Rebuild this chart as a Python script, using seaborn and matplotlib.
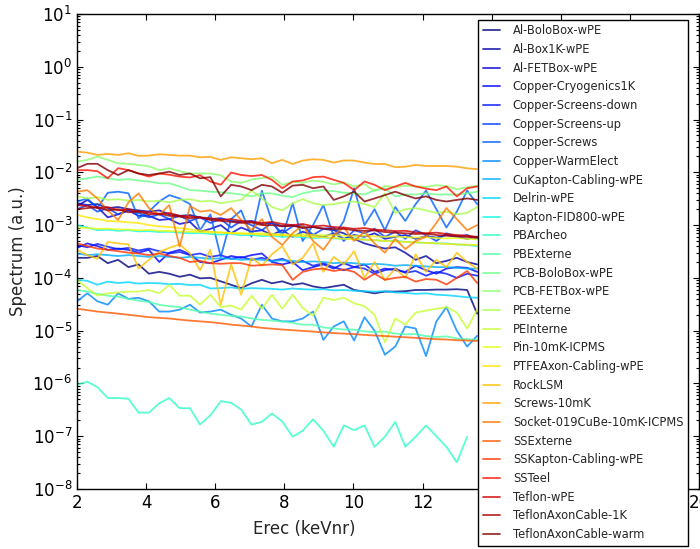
import numpy as np
import pandas as pd
import matplotlib
matplotlib.use("Agg")
import matplotlib.pyplot as plt
from matplotlib.ticker import LogLocator, NullLocator
import seaborn as sns

# recoil energy grid (keVnr)
energy = [2.00, 2.30, 2.59, 2.89, 3.19, 3.49, 3.78, 4.08, 4.38, 4.67,
          4.97, 5.27, 5.56, 5.86, 6.16, 6.46, 6.75, 7.05, 7.35, 7.64,
          7.94, 8.24, 8.53, 8.83, 9.13, 9.43, 9.72, 10.02, 10.32, 10.61,
          10.91, 11.21, 11.50, 11.80, 12.10, 12.40, 12.69, 12.99, 13.29, 13.58]

al_bolobox = [2.4e-4, 2.4e-4, 2.6e-4, 1.9e-4, 2.2e-4, 1.6e-4, 1.8e-4, 1.2e-4, 1.3e-4, 1.2e-4,
              1.05e-4, 1.15e-4, 9.8e-5, 1.0e-4, 8.6e-5, 7.4e-5, 6.4e-5, 7.9e-5, 9.2e-5, 7.9e-5,
              8.6e-5, 7.4e-5, 7.9e-5, 6.9e-5, 6.4e-5, 6.9e-5, 7.4e-5, 5.9e-5, 5.5e-5, 5.1e-5,
              5.5e-5, 5.5e-5, 5.6e-5, 5.9e-5, 5.9e-5, 6.0e-5, 6.0e-5, 6.1e-5, 5.9e-5, 2.1e-5]
al_box1k = [2.6e-3, 2.4e-3, 2.5e-3, 2.1e-3, 2.2e-3, 2.0e-3, 1.9e-3, 1.8e-3, 1.9e-3, 1.6e-3,
            1.5e-3, 1.55e-3, 1.4e-3, 1.3e-3, 1.35e-3, 1.2e-3, 1.15e-3, 1.2e-3, 1.05e-3, 1.1e-3,
            9.5e-4, 1.0e-3, 8.8e-4, 9.2e-4, 8.5e-4, 8.0e-4, 7.0e-4, 5.5e-4, 4.5e-4, 4.0e-4,
            3.6e-4, 3.8e-4, 3.0e-4, 2.2e-4, 2.6e-4, 1.9e-4, 2.1e-4, 2.4e-4, 2.0e-4, 1.8e-4]
al_fetbox = [2.3e-3, 3.0e-3, 2.2e-3, 1.4e-3, 1.6e-3, 1.9e-3, 1.5e-3, 1.5e-3, 1.25e-3, 1.3e-3,
             1.05e-3, 1.15e-3, 7.5e-4, 8.5e-4, 1.0e-3, 7.0e-4, 9.0e-4, 7.5e-4, 8.0e-4, 6.5e-4,
             8.0e-4, 6.0e-4, 7.5e-4, 6.5e-4, 6.0e-4, 7.0e-4, 5.5e-4, 6.5e-4, 6.0e-4, 7.0e-4,
             5.5e-4, 6.0e-4, 6.5e-4, 5.5e-4, 6.2e-4, 5.8e-4, 6.5e-4, 6.0e-4, 5.5e-4, 6.0e-4]
cu_cryo = [3.7e-4, 4.5e-4, 4.0e-4, 3.4e-4, 3.6e-4, 3.4e-4, 3.0e-4, 3.4e-4, 2.0e-4, 3.0e-4,
           3.4e-4, 2.8e-4, 2.0e-4, 1.9e-4, 2.2e-4, 2.6e-4, 2.4e-4, 2.7e-4, 2.9e-4, 2.0e-4,
           1.8e-4, 2.0e-4, 1.4e-4, 1.6e-4, 1.8e-4, 1.5e-4, 1.9e-4, 1.6e-4, 1.8e-4, 1.3e-4,
           1.5e-4, 1.4e-4, 1.3e-4, 1.7e-4, 1.4e-4, 1.2e-4, 1.5e-4, 1.6e-4, 1.55e-4, 1.3e-4]
cu_screens_down = [4.2e-4, 3.8e-4, 4.4e-4, 3.9e-4, 3.5e-4, 3.7e-4, 3.3e-4, 3.6e-4, 3.2e-4, 2.9e-4,
                   3.1e-4, 2.7e-4, 2.9e-4, 2.5e-4, 2.7e-4, 2.3e-4, 2.5e-4, 2.2e-4, 2.4e-4, 2.1e-4,
                   2.3e-4, 1.9e-4, 2.1e-4, 1.7e-4, 1.9e-4, 1.6e-4, 1.4e-4, 1.6e-4, 1.5e-4, 1.2e-4,
                   1.4e-4, 1.5e-4, 1.25e-4, 1.35e-4, 1.1e-4, 1.3e-4, 1.2e-4, 1.0e-4, 1.2e-4, 1.1e-4]
cu_screens_up = [2.0e-3, 2.4e-3, 1.8e-3, 2.1e-3, 1.6e-3, 1.9e-3, 1.7e-3, 1.4e-3, 1.6e-3, 1.3e-3,
                 1.5e-3, 1.2e-3, 1.4e-3, 1.1e-3, 1.3e-3, 9.0e-4, 1.2e-3, 1.0e-3, 8.0e-4, 1.1e-3,
                 7.0e-4, 9.5e-4, 1.0e-3, 6.5e-4, 8.5e-4, 9.0e-4, 5.0e-4, 8.0e-4, 7.0e-4, 8.5e-4,
                 6.0e-4, 7.5e-4, 5.5e-4, 8.0e-4, 6.5e-4, 5.0e-4, 7.0e-4, 6.0e-4, 6.5e-4, 5.5e-4]
cu_screws = [2.8e-3, 3.2e-3, 2.1e-3, 4.1e-3, 4.3e-3, 4.0e-3, 1.35e-3, 1.8e-3, 2.8e-3, 3.7e-3,
             3.2e-3, 2.5e-3, 8.0e-4, 1.6e-3, 2.5e-4, 1.3e-3, 1.9e-3, 6.0e-4, 4.5e-3, 1.2e-3,
             6.0e-4, 2.6e-3, 5.0e-4, 1.0e-3, 2.4e-3, 6.0e-4, 1.2e-3, 5.0e-3, 1.0e-3, 2.0e-3,
             8.0e-4, 2.2e-3, 1.2e-3, 2.5e-3, 4.5e-3, 2.0e-3, 9.0e-4, 1.8e-3, 4.5e-3, 2.5e-3]
cu_warmelect = [3.6e-5, 5.1e-5, 3.6e-5, 3.1e-5, 5.1e-5, 4.0e-5, 4.2e-5, 3.6e-5, 2.3e-5, 2.3e-5,
                2.5e-5, 3.1e-5, 2.2e-5, 2.3e-5, 2.5e-5, 2.0e-5, 1.7e-5, 1.2e-5, 3.1e-5, 1.7e-5,
                1.5e-5, 1.5e-5, 1.7e-5, 2.3e-5, 6.7e-6, 1.2e-5, 1.5e-5, 6.5e-6, 1.8e-5, 1.0e-5,
                3.5e-6, 5.0e-6, 1.2e-5, 1.1e-5, 3.3e-6, 1.5e-5, 2.8e-5, 1.0e-5, 5.0e-6, 8.0e-6]
cukapton = [2.9e-4, 2.7e-4, 2.8e-4, 2.7e-4, 2.6e-4, 2.7e-4, 2.6e-4, 2.5e-4, 2.6e-4, 2.5e-4,
            2.4e-4, 2.5e-4, 2.4e-4, 2.3e-4, 2.35e-4, 2.3e-4, 2.2e-4, 2.25e-4, 2.2e-4, 2.1e-4,
            2.15e-4, 2.1e-4, 2.0e-4, 2.05e-4, 2.0e-4, 1.9e-4, 1.95e-4, 1.9e-4, 1.8e-4, 1.85e-4,
            1.8e-4, 1.7e-4, 1.75e-4, 1.7e-4, 1.65e-4, 1.6e-4, 1.6e-4, 1.55e-4, 1.5e-4, 1.5e-4]
delrin = [9.2e-5, 8.8e-5, 7.4e-5, 8.5e-5, 8.0e-5, 8.3e-5, 7.8e-5, 8.0e-5, 7.9e-5, 7.6e-5,
          7.7e-5, 7.3e-5, 7.4e-5, 6.3e-5, 6.4e-5, 6.6e-5, 6.2e-5, 6.4e-5, 6.3e-5, 6.2e-5,
          6.0e-5, 6.3e-5, 6.1e-5, 6.0e-5, 6.1e-5, 5.8e-5, 5.9e-5, 5.7e-5, 5.6e-5, 5.5e-5,
          5.6e-5, 5.3e-5, 5.2e-5, 5.0e-5, 5.1e-5, 4.8e-5, 4.7e-5, 4.5e-5, 4.3e-5, 4.2e-5]
kapton_fid800 = [1.0e-3, 9.0e-4, 8.0e-4, 8.2e-4, 7.8e-4, 8.0e-4, 7.6e-4, 7.7e-4, 7.4e-4, 7.5e-4,
                 7.2e-4, 7.0e-4, 7.1e-4, 6.8e-4, 6.6e-4, 6.9e-4, 6.4e-4, 6.5e-4, 6.2e-4, 6.3e-4,
                 6.0e-4, 6.1e-4, 5.9e-4, 5.7e-4, 5.8e-4, 5.6e-4, 5.5e-4, 5.6e-4, 5.3e-4, 5.2e-4,
                 5.0e-4, 5.1e-4, 4.8e-4, 4.7e-4, 4.6e-4, 4.5e-4, 4.5e-4, 4.3e-4, 4.2e-4, 4.0e-4]
pbarcheo = [9.4e-7, 1.08e-6, 8.5e-7, 5.3e-7, 5.3e-7, 5.1e-7, 2.8e-7, 2.8e-7, 4.2e-7, 5.3e-7,
            3.4e-7, 3.4e-7, 1.66e-7, 2.5e-7, 4.6e-7, 4.3e-7, 3.2e-7, 1.66e-7, 1.87e-7, 2.7e-7,
            1.9e-7, 9.8e-8, 1.27e-7, 2.1e-7, 1.27e-7, 6.3e-8, 1.6e-7, 1.3e-7, 1.6e-7, 6.3e-8,
            9.8e-8, 1.87e-7, 6.3e-8, 9.8e-8, 1.6e-7, 1.0e-7, 6.3e-8, 3.2e-8, 9.8e-8, np.nan]
pbexterne = [5.9e-5, 5.5e-5, 5.0e-5, 4.6e-5, 4.4e-5, 4.0e-5, 3.7e-5, 3.5e-5, 3.1e-5, 2.9e-5,
             2.8e-5, 2.5e-5, 2.3e-5, 2.1e-5, 2.0e-5, 1.9e-5, 1.85e-5, 1.7e-5, 1.6e-5, 1.55e-5,
             1.5e-5, 1.4e-5, 1.3e-5, 1.3e-5, 1.15e-5, 1.1e-5, 1.05e-5, 1.05e-5, 9.7e-6, 9.4e-6,
             9.6e-6, 8.8e-6, 8.5e-6, 8.6e-6, 7.9e-6, 7.6e-6, 7.8e-6, 7.1e-6, 6.9e-6, 6.7e-6]
pcb_bolobox = [7.2e-3, 7.7e-3, 8.3e-3, 7.7e-3, 7.2e-3, 7.4e-3, 7.0e-3, 6.7e-3, 6.2e-3, 6.2e-3,
               5.4e-3, 4.6e-3, 4.5e-3, 4.3e-3, 4.2e-3, 4.0e-3, 3.8e-3, 3.5e-3, 4.0e-3, 4.0e-3,
               3.6e-3, 3.4e-3, 4.0e-3, 4.4e-3, 4.6e-3, 4.4e-3, 4.1e-3, 4.0e-3, 3.8e-3, 4.6e-3,
               5.0e-3, 3.5e-3, 3.8e-3, 3.8e-3, 4.0e-3, 3.8e-3, 3.8e-3, 3.8e-3, 4.0e-3, 4.3e-3]
pcb_fetbox = [1.6e-2, 1.72e-2, 2.0e-2, 1.72e-2, 1.48e-2, 1.45e-2, 1.38e-2, 1.3e-2, 1.1e-2, 1.2e-2,
              1.05e-2, 9.5e-3, 9.5e-3, 9.5e-3, 8.8e-3, 6.7e-3, 6.3e-3, 7.3e-3, 7.8e-3, 8.3e-3,
              5.8e-3, 6.6e-3, 6.3e-3, 7.0e-3, 6.6e-3, 5.9e-3, 6.4e-3, 5.4e-3, 6.0e-3, 4.4e-3,
              5.5e-3, 5.2e-3, 5.6e-3, 5.4e-3, 5.3e-3, 5.7e-3, 5.5e-3, 4.8e-3, 5.2e-3, 5.6e-3]
pe_externe = [3.5e-3, 3.2e-3, 3.4e-3, 3.0e-3, 3.1e-3, 2.9e-3, 3.0e-3, 2.8e-3, 2.9e-3, 2.7e-3,
              3.0e-3, 3.1e-3, 2.8e-3, 2.9e-3, 2.6e-3, 2.8e-3, 3.0e-3, 4.5e-3, 3.2e-3, 2.2e-3,
              1.9e-3, 2.6e-3, 3.1e-3, 2.6e-3, 2.4e-3, 2.5e-3, 2.7e-3, 2.8e-3, 2.5e-3, 2.2e-3,
              4.0e-3, 1.7e-3, 2.0e-3, 2.1e-3, 1.9e-3, 1.7e-3, 1.8e-3, 1.6e-3, 1.7e-3, 2.2e-3]
pe_interne = [9.2e-5, 6.4e-5, 4.6e-5, 5.1e-5, 5.3e-5, 5.5e-5, 5.5e-5, 5.9e-5, 5.1e-5, 7.4e-5,
              4.6e-5, 4.6e-5, 3.1e-5, 4.8e-5, 2.8e-5, 3.0e-5, 2.5e-5, 4.6e-5, 2.6e-5, 4.8e-5,
              2.6e-5, 4.8e-5, 2.7e-5, 1.9e-5, 4.2e-5, 3.8e-5, 4.2e-5, 3.3e-5, 2.9e-5, 2.0e-5,
              6.0e-6, 1.7e-5, 1.3e-5, 2.2e-5, 2.4e-5, 2.6e-5, 2.8e-5, 2.2e-5, 1.1e-5, 2.5e-5]
pin_10mk = [9.0e-4, 8.8e-4, 8.5e-4, 8.6e-4, 8.3e-4, 8.2e-4, 8.0e-4, 8.1e-4, 7.8e-4, 7.7e-4,
            7.6e-4, 7.5e-4, 7.4e-4, 7.2e-4, 7.3e-4, 7.1e-4, 7.0e-4, 6.9e-4, 7.0e-4, 6.8e-4,
            6.7e-4, 6.6e-4, 6.7e-4, 6.5e-4, 6.4e-4, 6.5e-4, 6.3e-4, 6.2e-4, 6.3e-4, 6.1e-4,
            6.0e-4, 6.1e-4, 5.9e-4, 5.8e-4, 5.9e-4, 5.7e-4, 5.6e-4, 5.7e-4, 5.5e-4, 5.4e-4]
ptfe_axon = [1.56e-3, 1.4e-3, 1.3e-3, 1.2e-3, 1.17e-3, 1.13e-3, 1.1e-3, 1.0e-3, 9.5e-4, 9.2e-4,
             8.8e-4, 8.3e-4, 7.9e-4, 7.5e-4, 7.2e-4, 7.0e-4, 6.9e-4, 6.8e-4, 6.6e-4, 6.5e-4,
             6.4e-4, 6.3e-4, 6.2e-4, 6.0e-4, 5.9e-4, 5.7e-4, 5.5e-4, 5.4e-4, 5.3e-4, 5.2e-4,
             5.0e-4, 4.9e-4, 4.8e-4, 4.7e-4, 4.6e-4, 4.5e-4, 4.4e-4, 4.3e-4, 4.25e-4, 4.2e-4]
rock_lsm = [3.4e-4, 2.7e-4, 2.3e-4, 4.8e-4, 4.5e-4, 4.3e-4, 1.5e-4, 2.2e-4, 3.1e-4, 3.7e-4,
            4.3e-4, 2.9e-4, 1.4e-4, 3.4e-4, 3.1e-5, 1.8e-4, 4.8e-5, 2.4e-4, 1.7e-4, 2.8e-4,
            4.0e-4, 1.8e-4, 2.4e-4, 4.5e-4, 1.3e-4, 2.5e-4, 1.8e-4, 3.2e-4, 1.0e-4, 2.0e-4,
            9.0e-5, 1.5e-4, 1.0e-4, 2.8e-4, 1.3e-4, 2.2e-4, 1.6e-4, 3.0e-4, 2.0e-4, 1.5e-4]
screws_10mk = [2.47e-2, 2.36e-2, 2.14e-2, 2.23e-2, 2.14e-2, 2.3e-2, 2.05e-2, 2.07e-2, 2.2e-2, 2.14e-2,
               2.07e-2, 2.07e-2, 1.93e-2, 1.96e-2, 1.72e-2, 1.93e-2, 1.85e-2, 1.77e-2, 1.85e-2, 1.49e-2,
               1.72e-2, 1.44e-2, 1.67e-2, 1.77e-2, 1.72e-2, 1.53e-2, 1.68e-2, 1.67e-2, 1.53e-2, 1.44e-2,
               1.44e-2, 1.25e-2, 1.28e-2, 1.38e-2, 1.32e-2, 1.32e-2, 1.32e-2, 1.28e-2, 1.19e-2, 1.15e-2]
socket = [4.3e-3, 4.6e-3, 3.2e-3, 1.9e-3, 1.25e-3, 2.7e-3, 4.0e-3, 2.1e-3, 1.56e-3, 2.4e-3,
          3.9e-4, 2.3e-3, 1.8e-3, 1.9e-3, 1.56e-3, 2.1e-3, 1.25e-3, 8.0e-4, 1.3e-3, 6.0e-4,
          4.2e-4, 7.0e-4, 1.0e-3, 5.0e-4, 3.4e-4, 6.5e-4, 9.0e-4, 5.0e-4, 7.5e-4, 4.5e-4,
          3.0e-4, 5.5e-4, 3.5e-4, 5.0e-4, 6.0e-4, 1.1e-3, 2.1e-3, 1.3e-3, 8.0e-4, 1.0e-3]
ss_externe = [2.6e-5, 2.45e-5, 2.3e-5, 2.2e-5, 2.1e-5, 2.0e-5, 1.9e-5, 1.8e-5, 1.75e-5, 1.7e-5,
              1.62e-5, 1.55e-5, 1.5e-5, 1.45e-5, 1.38e-5, 1.3e-5, 1.25e-5, 1.2e-5, 1.13e-5, 1.09e-5,
              1.05e-5, 1.02e-5, 9.9e-6, 9.6e-6, 9.3e-6, 9.0e-6, 8.8e-6, 8.6e-6, 8.3e-6, 8.1e-6,
              7.9e-6, 7.7e-6, 7.5e-6, 7.3e-6, 7.1e-6, 6.9e-6, 6.8e-6, 6.6e-6, 6.5e-6, 6.4e-6]
ss_kapton = [4.5e-4, 4.0e-4, 3.6e-4, 3.4e-4, 3.2e-4, 3.0e-4, 2.9e-4, 2.7e-4, 2.9e-4, 2.6e-4,
             2.4e-4, 2.0e-4, 2.1e-4, 1.9e-4, 1.85e-4, 1.9e-4, 1.9e-4, 1.7e-4, 1.75e-4, 1.8e-4,
             1.75e-4, 9.2e-5, 1.3e-4, 1.45e-4, 1.5e-4, 1.35e-4, 1.45e-4, 1.3e-4, 9.2e-5, 1.2e-4,
             9.2e-5, 1.0e-4, 1.05e-4, 8.5e-5, 9.5e-5, 9.2e-5, 7.5e-5, 1.0e-4, 1.35e-4, 8.0e-5]
ss_teel = [1.1e-2, 1.1e-2, 1.05e-2, 7.7e-3, 1.2e-2, 1.1e-2, 9.5e-3, 8.3e-3, 9.5e-3, 9.0e-3,
           8.3e-3, 8.0e-3, 8.8e-3, 6.7e-3, 5.8e-3, 9.9e-3, 8.9e-3, 8.5e-3, 8.9e-3, 7.2e-3,
           5.0e-3, 6.7e-3, 7.0e-3, 8.1e-3, 8.3e-3, 7.2e-3, 6.3e-3, 4.6e-3, 6.7e-3, 5.8e-3,
           4.6e-3, 5.4e-3, 6.3e-3, 5.4e-3, 4.9e-3, 4.6e-3, 5.4e-3, 3.5e-3, 5.0e-3, 5.4e-3]
teflon_wpe = [2.4e-3, 2.3e-3, 2.1e-3, 2.2e-3, 1.9e-3, 2.0e-3, 1.8e-3, 1.75e-3, 1.6e-3, 1.7e-3,
              1.5e-3, 1.45e-3, 1.4e-3, 1.35e-3, 1.25e-3, 1.3e-3, 1.2e-3, 1.15e-3, 1.1e-3, 1.15e-3,
              1.05e-3, 1.0e-3, 1.05e-3, 9.5e-4, 9.8e-4, 9.2e-4, 9.0e-4, 8.5e-4, 8.8e-4, 8.2e-4,
              8.0e-4, 7.7e-4, 7.8e-4, 7.3e-4, 7.0e-4, 7.2e-4, 6.8e-4, 6.5e-4, 6.3e-4, 6.0e-4]
teflon_axon_1k = [2.0e-3, 2.1e-3, 2.2e-3, 1.9e-3, 2.0e-3, 1.75e-3, 1.8e-3, 1.6e-3, 1.65e-3, 1.5e-3,
                  1.45e-3, 1.35e-3, 1.4e-3, 1.25e-3, 1.2e-3, 1.15e-3, 1.1e-3, 1.12e-3, 1.0e-3, 1.0e-3,
                  9.5e-4, 9.7e-4, 9.0e-4, 9.2e-4, 8.6e-4, 8.4e-4, 8.5e-4, 8.0e-4, 7.8e-4, 7.9e-4,
                  7.4e-4, 7.2e-4, 7.0e-4, 6.8e-4, 6.9e-4, 6.5e-4, 6.3e-4, 6.2e-4, 6.0e-4, 5.8e-4]
teflon_axon_warm = [1.2e-2, 1.45e-2, 1.45e-2, 1.1e-2, 8.9e-3, 1.1e-2, 9.5e-3, 8.9e-3, 9.5e-3, 1.03e-2,
                    8.9e-3, 9.5e-3, 7.7e-3, 8.1e-3, 3.5e-3, 5.8e-3, 5.4e-3, 4.6e-3, 5.8e-3, 5.4e-3,
                    4.1e-3, 5.6e-3, 5.8e-3, 5.0e-3, 5.4e-3, 3.0e-3, 3.5e-3, 4.3e-3, 2.8e-3, 3.2e-3,
                    3.7e-3, 4.3e-3, 3.7e-3, 3.2e-3, 3.5e-3, 3.0e-3, 2.8e-3, 3.0e-3, 3.2e-3, 3.0e-3]

sources = ["Al-BoloBox-wPE", "Al-Box1K-wPE", "Al-FETBox-wPE", "Copper-Cryogenics1K",
           "Copper-Screens-down", "Copper-Screens-up", "Copper-Screws", "Copper-WarmElect",
           "CuKapton-Cabling-wPE", "Delrin-wPE", "Kapton-FID800-wPE", "PBArcheo", "PBExterne",
           "PCB-BoloBox-wPE", "PCB-FETBox-wPE", "PEExterne", "PEInterne", "Pin-10mK-ICPMS",
           "PTFEAxon-Cabling-wPE", "RockLSM", "Screws-10mK", "Socket-019CuBe-10mK-ICPMS",
           "SSExterne", "SSKapton-Cabling-wPE", "SSTeel", "Teflon-wPE", "TeflonAxonCable-1K",
           "TeflonAxonCable-warm"]
spectra = [al_bolobox, al_box1k, al_fetbox, cu_cryo, cu_screens_down, cu_screens_up,
           cu_screws, cu_warmelect, cukapton, delrin, kapton_fid800, pbarcheo, pbexterne,
           pcb_bolobox, pcb_fetbox, pe_externe, pe_interne, pin_10mk, ptfe_axon, rock_lsm,
           screws_10mk, socket, ss_externe, ss_kapton, ss_teel, teflon_wpe, teflon_axon_1k,
           teflon_axon_warm]

frames = []
for name, vals in zip(sources, spectra):
    frames.append(pd.DataFrame({"Erec": energy, "Spectrum": vals, "source": name}))
df = pd.concat(frames, ignore_index=True).dropna()

sns.set_style("ticks")
plt.rcParams.update({
    "font.family": ["DejaVu Sans"],
    "axes.edgecolor": "black",
    "axes.linewidth": 1.0,
    "xtick.direction": "in",
    "ytick.direction": "in",
    "xtick.top": True,
    "ytick.right": True,
    "xtick.major.size": 4,
    "ytick.major.size": 4,
    "ytick.minor.size": 2,
    "ytick.minor.width": 0.8,
    "xtick.color": "black",
    "ytick.color": "black",
})

colors = [plt.cm.jet(v) for v in np.linspace(0, 1, len(sources))]

fig = plt.figure(figsize=(7.0, 5.49), dpi=100)
ax = fig.add_axes([0.110, 0.1093, 0.8886, 0.8652])

sns.lineplot(data=df, x="Erec", y="Spectrum", hue="source", hue_order=sources,
             palette=colors, estimator=None, sort=True, linewidth=1.3, alpha=0.8,
             ax=ax, legend="full")

ax.set_yscale("log")
ax.set_xlim(2, 20)
ax.set_ylim(1e-8, 1e1)
ax.yaxis.set_major_locator(LogLocator(base=10, numticks=20))
ax.yaxis.set_minor_locator(LogLocator(base=10, subs=np.arange(2, 10), numticks=20))
ax.xaxis.set_minor_locator(NullLocator())
ax.set_xticks([2, 4, 6, 8, 10, 12, 14, 16, 18, 20])
ax.tick_params(labelsize=12)
ax.set_xlabel("Erec (keVnr)", fontsize=12)
ax.set_ylabel("Spectrum (a.u.)", fontsize=12)
ax.xaxis.set_label_coords(0.365, -0.065)

sns.move_legend(ax, "upper left", bbox_to_anchor=(478 / 700, 1 - 19.5 / 549),
                bbox_transform=fig.transFigure, title=None, frameon=True,
                fancybox=False, framealpha=1, borderaxespad=0, fontsize=8.3,
                handlelength=1.5, handletextpad=1.1, labelspacing=0.49, borderpad=0.42)
leg = ax.get_legend()
leg.get_frame().set_edgecolor("black")
leg.get_frame().set_linewidth(1.0)

fig.savefig("out.png", dpi=100)
